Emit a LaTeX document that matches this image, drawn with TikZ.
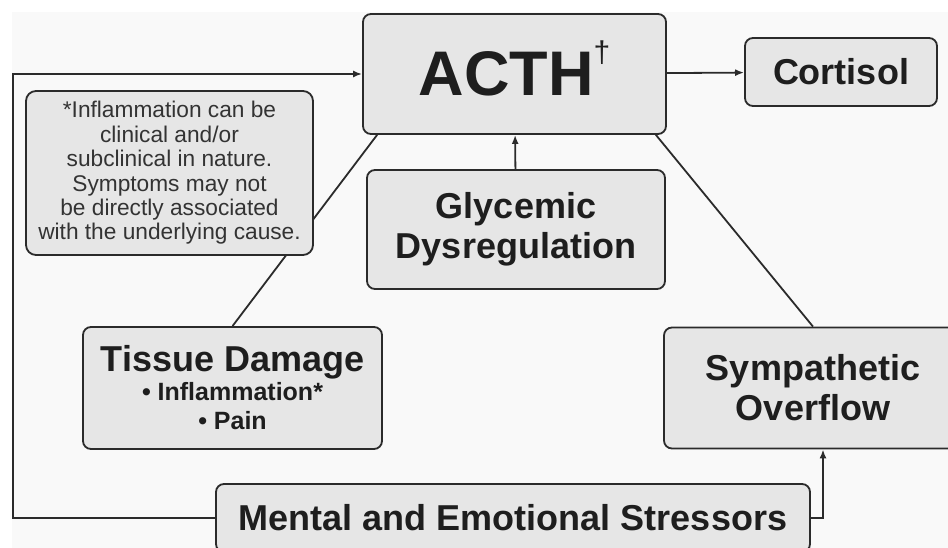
\documentclass[tikz,border=0pt]{standalone}
\usepackage{fontspec}
\setmainfont{Liberation Sans}
\usetikzlibrary{arrows.meta}
\definecolor{boxfill}{HTML}{E6E6E6}
\definecolor{boxline}{HTML}{2B2B2B}
\definecolor{paper}{HTML}{F9F9F9}
\definecolor{ink}{HTML}{1E1E1E}

\begin{document}
\begin{tikzpicture}[
  x=1pt, y=-1pt,
  >={Latex[length=9pt,width=7pt]},
  every node/.style={draw=boxline, fill=boxfill, line width=1.8pt, rounded corners=8pt, align=center, text=ink, inner sep=0pt},
  bigtext/.style={font=\bfseries\fontsize{36}{40}\selectfont},
  link/.style={draw=boxline, line width=1.8pt}
]
  \useasboundingbox (0,0) rectangle (948,548);
  \fill[white] (0,0) rectangle (948,548);
  \fill[paper] (12,12) rectangle (948,548);

  % Top row
  \node[minimum width=303pt, minimum height=120pt, font=\bfseries\fontsize{63}{70}\selectfont] (ACTH) at (514.5,74) {ACTH\smash{\raisebox{33pt}{\fontsize{30}{30}\mdseries\selectfont †}}};
  \node[minimum width=192pt, minimum height=68pt, bigtext] (Cortisol) at (841,72) {Cortisol};

  % Middle
  \node[minimum width=298pt, minimum height=119pt, bigtext] (Glycemic) at (516,229.5) {Glycemic\\Dysregulation};

  % Lower row
  \node[minimum width=299pt, minimum height=122pt, font=\bfseries\fontsize{25}{29}\selectfont] (Tissue) at (232.5,388) {{\fontsize{36}{36}\selectfont Tissue Damage}\\• Inflammation*\\• Pain};
  \node[minimum width=298pt, minimum height=121pt, bigtext] (Sympathetic) at (813,388) {Sympathetic\\Overflow};

  % Bottom
  \node[minimum width=594pt, minimum height=68pt, bigtext] (Mental) at (513,518) {Mental and Emotional Stressors};
  \coordinate (loop) at (13,518);

  % Arrows
  \draw[link, ->] (ACTH) -- (Cortisol);
  \draw[link, ->] (Glycemic) -- (ACTH);
  \draw[link] (Tissue.north) -- ([xshift=15pt]ACTH.south west);
  \draw[link] (Sympathetic.north) -- ([xshift=-11pt]ACTH.south east);
  \draw[link, ->] (Mental.west) -- (loop) |- (ACTH.west);
  \draw[link, ->] (Mental.east) -| ([xshift=10pt]Sympathetic.south);

  % Note on top of the line
  \node[minimum width=287pt, minimum height=164pt, rounded corners=10pt, text=black!80, font=\fontsize{22.7}{24.4}\selectfont] (Note) at (169.5,173) {*Inflammation can be\\clinical and/or\\subclinical in nature.\\Symptoms may not\\be directly associated\\with the underlying cause.};
\end{tikzpicture}
\end{document}
